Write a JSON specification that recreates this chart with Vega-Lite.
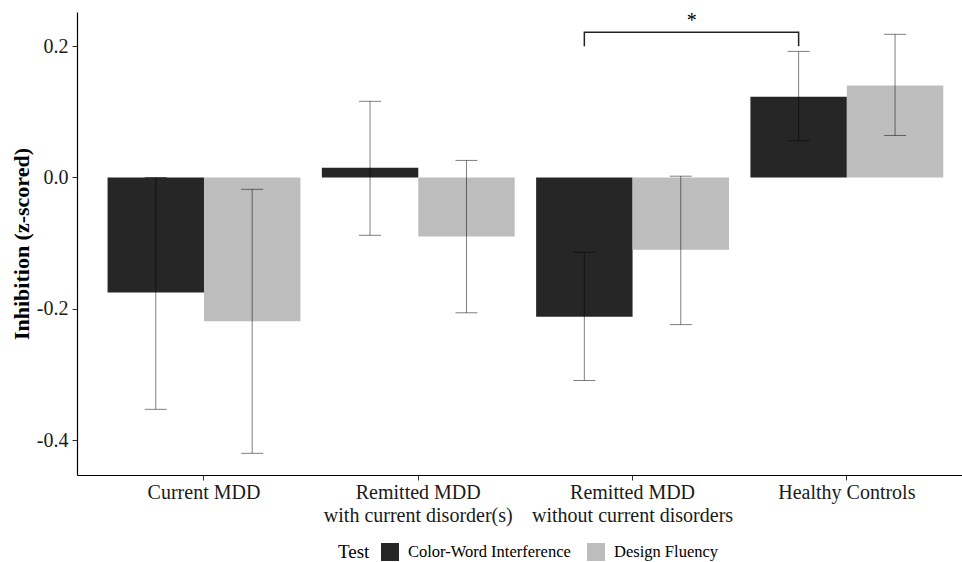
{
  "$schema": "https://vega.github.io/schema/vega-lite/v6.json",
  "width": 885,
  "height": 463,
  "autosize": "none",
  "padding": {"left": 77, "top": 12, "right": 0, "bottom": 87},
  "background": "white",
  "config": {
    "font": "Liberation Serif",
    "view": {"stroke": null},
    "axis": {"grid": false, "domainColor": "#000000", "domainWidth": 1.2, "tickColor": "#333333", "tickSize": 5, "labelColor": "#1a1a1a", "labelFont": "Liberation Serif", "titleFont": "Liberation Serif"}
  },
  "datasets": {
    "bars": [
      {"group": "Current MDD", "test": "Color-Word Interference", "mean": -0.175, "lo": -0.353, "hi": 0.0},
      {"group": "Current MDD", "test": "Design Fluency", "mean": -0.219, "lo": -0.42, "hi": -0.018},
      {"group": "Remitted MDD with current disorder(s)", "test": "Color-Word Interference", "mean": 0.015, "lo": -0.088, "hi": 0.116},
      {"group": "Remitted MDD with current disorder(s)", "test": "Design Fluency", "mean": -0.09, "lo": -0.206, "hi": 0.026},
      {"group": "Remitted MDD without current disorders", "test": "Color-Word Interference", "mean": -0.212, "lo": -0.309, "hi": -0.114},
      {"group": "Remitted MDD without current disorders", "test": "Design Fluency", "mean": -0.11, "lo": -0.224, "hi": 0.002},
      {"group": "Healthy Controls", "test": "Color-Word Interference", "mean": 0.123, "lo": 0.056, "hi": 0.192},
      {"group": "Healthy Controls", "test": "Design Fluency", "mean": 0.14, "lo": 0.064, "hi": 0.218}
    ],
    "bracket": [
      {"group": "Remitted MDD without current disorders", "test": "Color-Word Interference", "y": 0.2, "ord": 1},
      {"group": "Remitted MDD without current disorders", "test": "Color-Word Interference", "y": 0.221, "ord": 2},
      {"group": "Healthy Controls", "test": "Color-Word Interference", "y": 0.221, "ord": 3},
      {"group": "Healthy Controls", "test": "Color-Word Interference", "y": 0.2, "ord": 4}
    ],
    "star": [
      {"group": "Remitted MDD without current disorders", "test": "Design Fluency", "y": 0.229, "label": "*"}
    ]
  },
  "encoding": {
    "x": {
      "field": "group",
      "type": "nominal",
      "sort": ["Current MDD", "Remitted MDD with current disorder(s)", "Remitted MDD without current disorders", "Healthy Controls"],
      "scale": {"paddingInner": 0.1, "paddingOuter": 0.115, "align": 0.62},
      "axis": {
        "title": null,
        "labelAngle": 0,
        "labelFontSize": 20,
        "labelPadding": 2,
        "labelLineHeight": 23,
        "labelBaseline": "top",
        "labelLimit": 0,
        "labelExpr": "datum.value == 'Remitted MDD with current disorder(s)' ? ['Remitted MDD', 'with current disorder(s)'] : datum.value == 'Remitted MDD without current disorders' ? ['Remitted MDD', 'without current disorders'] : datum.value"
      }
    },
    "xOffset": {
      "field": "test",
      "type": "nominal",
      "sort": ["Color-Word Interference", "Design Fluency"],
      "scale": {"paddingInner": 0, "paddingOuter": 0}
    }
  },
  "layer": [
    {
      "data": {"name": "bars"},
      "mark": {"type": "bar"},
      "encoding": {
        "y": {
          "field": "mean",
          "type": "quantitative",
          "scale": {"domain": [-0.453, 0.252], "nice": false, "zero": false},
          "axis": {
            "title": "Inhibition (z-scored)",
            "titleFontSize": 22,
            "titleFontWeight": "bold",
            "titleColor": "#000000",
            "titlePadding": 3,
            "values": [-0.4, -0.2, 0, 0.2],
            "labelExpr": "replace(format(datum.value, '.1f'), '\u2212', '-')",
            "labelFontSize": 20,
            "labelPadding": 4
          }
        },
        "y2": {"datum": 0},
        "color": {
          "field": "test",
          "type": "nominal",
          "sort": ["Color-Word Interference", "Design Fluency"],
          "scale": {"range": ["#262626", "#bdbdbd"]},
          "legend": {
            "title": "Test",
            "orient": "none",
            "legendX": 261,
            "legendY": 531,
            "direction": "horizontal",
            "titleOrient": "left",
            "titleFontSize": 19,
            "titleFontWeight": "normal",
            "titleColor": "#000000",
            "titleAnchor": "middle",
            "titleBaseline": "middle",
            "titlePadding": 11,
            "labelFontSize": 16.5,
            "labelColor": "#000000",
            "labelLimit": 0,
            "symbolType": "square",
            "symbolSize": 324,
            "symbolStrokeWidth": 0,
            "symbolOpacity": 1,
            "labelOffset": 9,
            "columnPadding": 16
          }
        }
      }
    },
    {
      "data": {"name": "bars"},
      "mark": {"type": "rule", "color": "#000000", "opacity": 0.5, "strokeWidth": 1},
      "encoding": {
        "y": {"field": "lo", "type": "quantitative"},
        "y2": {"field": "hi"}
      }
    },
    {
      "data": {"name": "bars"},
      "mark": {"type": "tick", "orient": "horizontal", "color": "#000000", "opacity": 0.5, "thickness": 1, "size": 22},
      "encoding": {"y": {"field": "lo", "type": "quantitative"}}
    },
    {
      "data": {"name": "bars"},
      "mark": {"type": "tick", "orient": "horizontal", "color": "#000000", "opacity": 0.5, "thickness": 1, "size": 22},
      "encoding": {"y": {"field": "hi", "type": "quantitative"}}
    },
    {
      "data": {"name": "bracket"},
      "mark": {"type": "line", "color": "#222222", "strokeWidth": 1.5, "interpolate": "linear"},
      "encoding": {
        "y": {"field": "y", "type": "quantitative"},
        "order": {"field": "ord", "type": "quantitative"}
      }
    },
    {
      "data": {"name": "star"},
      "mark": {"type": "text", "fontSize": 20, "color": "#000000", "dx": 11, "baseline": "alphabetic", "align": "center"},
      "encoding": {
        "y": {"field": "y", "type": "quantitative"},
        "text": {"field": "label"}
      }
    }
  ]
}
